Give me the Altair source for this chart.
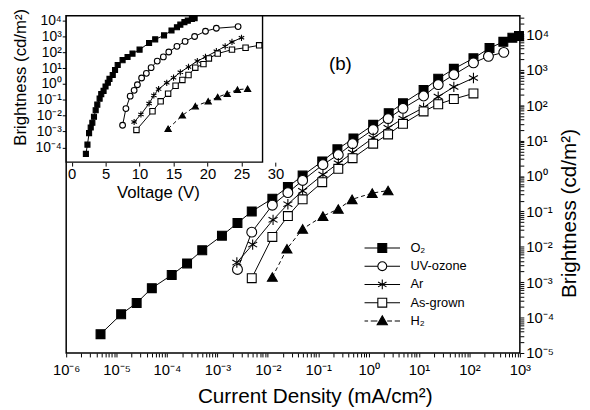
import json
import altair as alt
import pandas as pd

FONT = "Liberation Sans"

series_names = ["O\u2082", "UV-ozone", "Ar", "As-grown", "H\u2082"]

# ---------------- main panel: current density (mA/cm2) vs brightness (cd/m2)
o2_j = [4.8e-6, 1.23e-5, 2.5e-5, 5e-5, 1.24e-4, 2.5e-4, 5e-4, 1.23e-3, 2.5e-3, 4.8e-3,
        0.0123, 0.025, 0.049, 0.12, 0.24, 0.5, 1.23, 2.5, 4.8, 12.3, 24, 49, 120, 250, 470, 710, 960]
o2_b = [3.4e-5, 1.24e-4, 2.6e-4, 6.8e-4, 1.6e-3, 3.4e-3, 8e-3, 0.0207, 0.047, 0.10,
        0.23, 0.49, 1.03, 2.6, 5.7, 11.6, 28, 60, 114, 270, 565, 1070, 2130, 4130, 6200, 8100, 9100]
uv_j = [2.5e-3, 4.8e-3, 0.0123, 0.025, 0.049, 0.124, 0.25, 0.48, 1.23, 2.43, 4.8, 12.3, 24, 49, 120, 238, 480]
uv_b = [2.3e-3, 0.026, 0.15, 0.34, 0.75, 2.1, 4.0, 8.2, 20.6, 42, 82, 183, 385, 730, 1580, 2420, 3130]
ar_j = [2.43e-3, 5e-3, 0.0127, 0.025, 0.049, 0.124, 0.25, 0.48, 1.23, 2.43, 4.8, 12.3, 24, 49, 120]
ar_b = [3.6e-3, 0.0116, 0.058, 0.16, 0.38, 1.1, 2.3, 4.6, 12, 23, 42, 86, 175, 330, 590]
ag_j = [4.8e-3, 0.0123, 0.025, 0.049, 0.12, 0.25, 0.48, 1.23, 2.43, 4.8, 12.3, 24, 49, 120]
ag_b = [1.3e-3, 0.019, 0.074, 0.22, 0.67, 1.6, 3.2, 8.2, 15, 30, 67, 107, 150, 216]
h2_j = [0.0123, 0.024, 0.049, 0.124, 0.25, 0.47, 1.18, 2.43]
h2_b = [1.4e-3, 8.8e-3, 0.032, 0.074, 0.117, 0.22, 0.33, 0.39]

# ---------------- inset: voltage (V) vs brightness (cd/m2)
o2_v = [2.1, 2.33, 2.57, 2.81, 3.05, 3.29, 3.54, 3.78, 4.12, 4.36, 4.70, 4.99, 5.33, 5.57, 6.05, 6.39,
        6.78, 7.5, 8.23, 8.96, 10.0, 11.4, 12.3, 13.6, 14.7, 15.5, 16.0, 16.6, 17.1, 17.7, 18.1]
o2_vb = [3.9e-5, 1.5e-4, 8e-4, 1.8e-3, 3.6e-3, 8.5e-3, 0.022, 0.05, 0.12, 0.23, 0.37, 0.7, 1.2, 2.1, 3.7, 7.6,
         16, 32, 51, 83, 148, 390, 660, 1170, 2400, 3800, 5600, 8100, 10000, 12600, 14500]
uv_v = [7.5, 7.99, 8.62, 9.2, 9.68, 10.3, 11.0, 11.7, 12.6, 13.5, 14.3, 15.5, 16.7, 18.1, 19.7, 21.3, 24.5]
uv_vb = [2.5e-3, 0.028, 0.17, 0.4, 0.9, 2.4, 4.7, 10.7, 28, 51, 105, 240, 490, 1000, 2150, 3300, 4200]
ar_v = [9.2, 10.2, 11.4, 12.1, 12.8, 14.0, 15.0, 16.0, 17.2, 18.5, 19.7, 21.3, 22.6, 23.6, 25.0]
ar_vb = [4e-3, 0.012, 0.059, 0.19, 0.48, 1.2, 2.5, 5.5, 12, 28, 51, 117, 240, 450, 830]
ag_v = [9.54, 11.9, 13.1, 14.2, 15.3, 16.3, 17.2, 18.2, 19.4, 20.2, 21.5, 23.6, 25.6, 27.6]
ag_vb = [1.26e-3, 0.019, 0.081, 0.245, 0.78, 1.8, 3.7, 10.7, 18, 41, 83, 148, 195, 275]
h2_v = [14.2, 16.3, 18.2, 20.1, 21.5, 22.9, 24.4, 25.9]
h2_vb = [1.5e-3, 0.0105, 0.04, 0.081, 0.15, 0.245, 0.44, 0.5]

# ---------------- tick values / labels
x_major = [1e-6, 1e-5, 1e-4, 1e-3, 1e-2, 1e-1, 1e0, 1e1, 1e2, 1e3]
x_labels = ["10\u207b\u2076", "10\u207b\u2075", "10\u207b\u2074", "10\u207b\u00b3", "10\u207b\u00b2",
            "10\u207b\u00b9", "10\u2070", "10\u00b9", "10\u00b2", "10\u00b3"]
y_major = [1e-5, 1e-4, 1e-3, 1e-2, 1e-1, 1e0, 1e1, 1e2, 1e3, 1e4]
y_labels = ["10\u207b\u2075", "10\u207b\u2074", "10\u207b\u00b3", "10\u207b\u00b2", "10\u207b\u00b9",
            "10\u2070", "10\u00b9", "10\u00b2", "10\u00b3", "10\u2074"]
inset_y_major = [1e-4, 1e-3, 1e-2, 1e-1, 1e0, 1e1, 1e2, 1e3, 1e4]
inset_y_labels = ["10\u207b\u2074", "10\u207b\u00b3", "10\u207b\u00b2", "10\u207b\u00b9",
                  "10\u2070", "10\u00b9", "10\u00b2", "10\u00b3", "10\u2074"]
inset_x_major = [0, 5, 10, 15, 20, 25, 30]

x_minor = [k * 10.0 ** n for n in range(-6, 3) for k in range(2, 10)]
Y_MAX = 3.4e4
y_minor = [k * 10.0 ** n for n in range(-5, 5) for k in range(2, 10) if k * 10.0 ** n <= Y_MAX]

# ---------------- geometry
W, H = 460, 342
X_DOM = [1e-6, 1e3]
Y_DOM = [1e-5, Y_MAX]
IX_DOM = [-0.8, 28.1]
IY_DOM = [1.17e-5, 2.05e4]
INSET_W, INSET_H = 199.1, 148.5
ppv = INSET_W / (IX_DOM[1] - IX_DOM[0])
IX_RANGE = [0, ppv * (30 - IX_DOM[0])]

main_j = [o2_j, uv_j, ar_j, ag_j, h2_j]
main_b = [o2_b, uv_b, ar_b, ag_b, h2_b]
inset_v = [o2_v, uv_v, ar_v, ag_v, h2_v]
inset_b = [o2_vb, uv_vb, ar_vb, ag_vb, h2_vb]

main_df = pd.DataFrame([{"series": s, "x": j, "b": b}
                        for s, js, bs in zip(series_names, main_j, main_b) for j, b in zip(js, bs)])
inset_df = pd.DataFrame([{"series": s, "x": v, "b": b}
                         for s, vs, bs in zip(series_names, inset_v, inset_b) for v, b in zip(vs, bs)])

def lab_expr(labels, offset):
    e = "log(datum.value)/LN10"
    return ("abs(%s - round(%s)) < 0.001 ? %s[round(%s)+%d] : ''"
            % (e, e, json.dumps(labels, ensure_ascii=False), e, offset))

XS = alt.Scale(type="log", domain=X_DOM, nice=False)
YS = alt.Scale(type="log", domain=Y_DOM, nice=False)
IXS = alt.Scale(type="linear", domain=[IX_DOM[0], 30], range=IX_RANGE, nice=False, zero=False)
IYS = alt.Scale(type="log", domain=IY_DOM, range=[INSET_H, 0], nice=False)

TICK = dict(ticks=True, tickSize=4, tickColor="black", tickWidth=1, domain=False, grid=False,
            labelFlush=False, labelOverlap=False)

x_axis = alt.Axis(orient="bottom", values=sorted(x_major + x_minor), labelExpr=lab_expr(x_labels, 6),
                  labelFontSize=15, labelPadding=6, title="Current Density (mA/cm\u00b2)",
                  titleFontSize=21, titleX=252, titleY=50, titleBaseline="alphabetic", **TICK)
y_axis = alt.Axis(orient="right", values=sorted(y_major + y_minor), labelExpr=lab_expr(y_labels, 5),
                  labelFontSize=15, labelPadding=2, title="Brightness (cd/m\u00b2)", titleFontSize=21,
                  titleAngle=270, titleX=50, titleY=200, titleBaseline="middle", titleAlign="center",
                  **TICK)
ix_axis = alt.Axis(orient="bottom", offset=-(H - INSET_H), values=inset_x_major, format="d",
                   labelFontSize=15, labelPadding=1, title="Voltage (V)", titleFontSize=17,
                   titleX=93, titleY=36, titleBaseline="alphabetic", **TICK)
iy_axis = alt.Axis(orient="left", values=inset_y_major, labelExpr=lab_expr(inset_y_labels, 4),
                   labelFontSize=14, labelPadding=1, title="Brightness (cd/m\u00b2)",
                   titleFontSize=17, titleAngle=270, titleX=-46, titleY=62,
                   titleBaseline="middle", titleAlign="center", **TICK)

ASTER = "M0,-1V1M-0.87,-0.5L0.87,0.5M-0.87,0.5L0.87,-0.5"
styles = {
    "O\u2082": dict(shape="square", fill="black", msize=81, isize=26),
    "UV-ozone": dict(shape="circle", fill="white", msize=100, isize=34),
    "Ar": dict(shape=ASTER, fill="transparent", msize=110, isize=40),
    "As-grown": dict(shape="square", fill="white", msize=81, isize=30),
    "H\u2082": dict(shape="triangle-up", fill="black", msize=100, isize=40),
}

def enc(xs, xa, ys, ya):
    return dict(x=alt.X("x:Q", scale=xs, axis=xa), y=alt.Y("b:Q", scale=ys, axis=ya))

def series_layers(df, xs, xa, ys, ya, size_key):
    out = []
    for name in series_names:
        st = styles[name]
        base = alt.Chart(df).transform_filter(alt.datum.series == name)
        lkw = dict(color="black", strokeWidth=1)
        if name == "H\u2082":
            lkw["strokeDash"] = [4, 3]
        out.append(base.mark_line(**lkw).encode(**enc(xs, xa, ys, ya)))
        out.append(base.mark_point(shape=st["shape"], filled=True, fill=st["fill"], stroke="black",
                                   strokeWidth=1.1, size=st[size_key], opacity=1).encode(**enc(xs, xa, ys, ya)))
    return out

# legend: symbol paths that carry their own short line segments
legend_paths = [
    "M-4,0H-1M-1,-1H1V1H-1ZM1,0H4",
    "M-4,0H-1A1,1 0 1,0 1,0A1,1 0 1,0 -1,0ZM1,0H4",
    "M-4,0H4M0,-1.1V1.1M-0.95,-0.55L0.95,0.55M-0.95,0.55L0.95,-0.55",
    "M-4,0H-1M-1,-1H1V1H-1ZM1,0H4",
    "M-4,0H-3.2M-2.6,0H-1.1M0,-1.15L1.15,0.85H-1.15ZM1.1,0H2.2M2.8,0H4",
]
legend_fills = ["black", "white", "transparent", "white", "black"]
leg = alt.Legend(title=None, orient="none", legendX=314, legendY=229, padding=0, symbolSize=81,
                 symbolStrokeColor="black", symbolStrokeWidth=1.1, labelFont=FONT, labelFontSize=13,
                 labelOffset=22, rowPadding=3.5, labelColor="black")
legend_layer = alt.Chart(pd.DataFrame({"series": series_names})).transform_filter("false").mark_point(
    color="black", stroke="black", strokeWidth=1.1, opacity=1).encode(
    shape=alt.Shape("series:N", scale=alt.Scale(domain=series_names, range=legend_paths), legend=leg),
    fill=alt.Fill("series:N", scale=alt.Scale(domain=series_names, range=legend_fills), legend=leg),
    stroke=alt.Stroke("series:N", scale=alt.Scale(domain=series_names, range=["black"] * 5), legend=leg),
)

label_b = alt.Chart(pd.DataFrame({"t": ["(b)"]})).mark_text(
    font=FONT, fontSize=19, color="black").encode(
    text="t:N",
    x=alt.XDatum(0.275, scale=XS, axis=x_axis, type="quantitative"),
    y=alt.YDatum(1450, scale=YS, axis=y_axis, type="quantitative"))

main = alt.layer(
    *series_layers(main_df, XS, x_axis, YS, y_axis, "msize"),
    label_b,
    legend_layer,
)

frame = alt.Chart(pd.DataFrame({"f": [0]})).mark_rect(fill="white", stroke="black", strokeWidth=1.4).encode(
    x=alt.XDatum(IX_DOM[0], scale=IXS, axis=ix_axis, type="quantitative"),
    x2=alt.datum(IX_DOM[1]),
    y=alt.YDatum(IY_DOM[0], scale=IYS, axis=iy_axis, type="quantitative"),
    y2=alt.datum(IY_DOM[1]))

inset = alt.layer(
    frame,
    *series_layers(inset_df, IXS, ix_axis, IYS, iy_axis, "isize"),
)

chart = alt.layer(main, inset).resolve_scale(
    x="independent", y="independent").resolve_axis(
    x="independent", y="independent").properties(
    width=W, height=H, autosize=alt.AutoSizeParams(type="none"),
    padding={"left": 59, "top": 5, "right": 63, "bottom": 55}, background="white",
).configure_view(stroke="black", strokeWidth=1.5).configure_axis(
    labelFont=FONT, titleFont=FONT, labelColor="black", titleColor="black", titleFontWeight="normal")

chart.save("out.html", embed_options={"renderer": "svg", "actions": False})
